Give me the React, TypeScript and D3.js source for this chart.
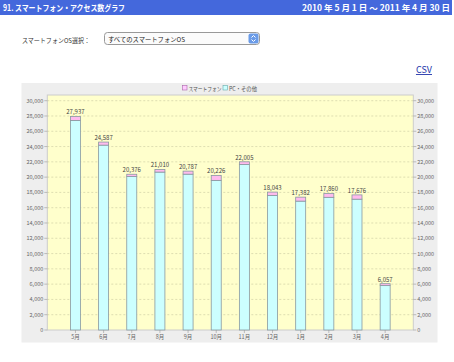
import React from 'react'
import * as d3 from 'd3'

const months = ['5月', '6月', '7月', '8月', '9月', '10月', '11月', '12月', '1月', '2月', '3月', '4月']
const totals = [27937, 24587, 20376, 21010, 20787, 20226, 22005, 18043, 17382, 17860, 17676, 6057]
// smartphone part sits on top of the PC part
const smartphone = [520, 400, 300, 350, 400, 650, 350, 430, 520, 500, 560, 250]
const yTicks = d3.range(0, 30001, 2000)

const font = '"Noto Sans CJK JP", "DejaVu Sans", sans-serif'

const App = () => {
    const width = 454
    const height = 362
    const plot = { left: 47.3, right: 413.3, top: 95, bottom: 330 }

    const x = d3.scalePoint<string>()
        .domain(months)
        .range([plot.left, plot.right])
        .padding(1)

    const y = d3.scaleLinear()
        .domain([0, 30000])
        .range([plot.bottom, 100.7])

    const fmt = d3.format(',')
    const barW = 10

    return (
        <svg width={width} height={height} style={{ position: 'absolute', left: 0, top: 0 }} fontFamily={font}>
            <rect x={0} y={0} width={width} height={height} fill="#ffffff" />

            {/* header bar */}
            <rect x={0} y={0} width={452} height={15} fill="#4468dc" />
            <text x={3} y={11} fill="#fff" fontSize={8.5} fontWeight="bold" textLength={122} lengthAdjust="spacingAndGlyphs">91. スマートフォン・アクセス数グラフ</text>
            <text x={302} y={11} fill="#fff" fontSize={8.5} fontWeight="bold" textLength={148} lengthAdjust="spacingAndGlyphs">2010 年 5 月 1 日 ～ 2011 年 4 月 30 日</text>

            {/* OS select */}
            <text x={22} y={42.5} fill="#333" fontSize={6.5} textLength={68} lengthAdjust="spacingAndGlyphs">スマートフォンOS選択：</text>
            <rect x={104.5} y={32.5} width={155} height={12} rx={3} fill="#fbfbfb" stroke="#999" />
            <text x={108} y={41.5} fill="#222" fontSize={6.5} textLength={77} lengthAdjust="spacingAndGlyphs">すべてのスマートフォンOS</text>
            <rect x={248.5} y={33.5} width={10} height={10} rx={2} fill="#6a9be8" />
            <path d="M251.5,37.5 L253.5,35.5 L255.5,37.5 M251.5,39.5 L253.5,41.5 L255.5,39.5" stroke="#fff" fill="none" strokeWidth={1} />

            {/* CSV link */}
            <text x={432} y={73} fill="#2233aa" fontSize={9} textAnchor="end" textDecoration="underline">CSV</text>

            {/* chart panel */}
            <rect x={21.5} y={83} width={416} height={259.5} fill="#eeeeee" />
            <rect x={plot.left} y={plot.top} width={plot.right - plot.left} height={plot.bottom - plot.top} fill="#ffffcc" stroke="#cccccc" />

            {/* legend */}
            <rect x={182.5} y={85.5} width={4.5} height={4.5} fill="#ffccff" stroke="#aa66aa" strokeWidth={0.6} />
            <text x={188.5} y={90.5} fill="#555" fontSize={6} textLength={33} lengthAdjust="spacingAndGlyphs">スマートフォン</text>
            <rect x={223} y={85.5} width={4.5} height={4.5} fill="#ccffff" stroke="#66aaaa" strokeWidth={0.6} />
            <text x={229} y={90.5} fill="#555" fontSize={6} textLength={28} lengthAdjust="spacingAndGlyphs">PC・その他</text>

            {/* gridlines and y axes */}
            {yTicks.map(t => (
                <g key={t}>
                    {t > 0 && (
                        <line x1={plot.left} x2={plot.right} y1={y(t)} y2={y(t)} stroke="#c8c8a0" strokeDasharray="2,2" strokeWidth={0.6} />
                    )}
                    <line x1={plot.left - 3} x2={plot.left} y1={y(t)} y2={y(t)} stroke="#999" strokeWidth={0.6} />
                    <line x1={plot.right} x2={plot.right + 3} y1={y(t)} y2={y(t)} stroke="#999" strokeWidth={0.6} />
                    <text x={plot.left - 4} y={y(t) + 2} fontSize={5.5} fill="#666" textAnchor="end">{fmt(t)}</text>
                    <text x={plot.right + 4} y={y(t) + 2} fontSize={5.5} fill="#666">{fmt(t)}</text>
                </g>
            ))}

            {/* bars */}
            {months.map((m, i) => {
                const cx = x(m) as number
                const pc = totals[i] - smartphone[i]
                return (
                    <g key={m}>
                        <rect x={cx - barW / 2} y={y(pc)} width={barW} height={y(0) - y(pc)} fill="#ccffff" stroke="#8899a0" strokeWidth={0.8} />
                        <rect x={cx - barW / 2} y={y(totals[i])} width={barW} height={y(pc) - y(totals[i])} fill="#ffbbee" stroke="#8899a0" strokeWidth={0.8} />
                        <text x={cx} y={y(totals[i]) - 2} fontSize={6} fill="#444" textAnchor="middle">{fmt(totals[i])}</text>
                        <line x1={cx} x2={cx} y1={plot.bottom} y2={plot.bottom + 3} stroke="#999" strokeWidth={0.6} />
                        <text x={cx} y={plot.bottom + 9} fontSize={5.5} fill="#666" textAnchor="middle">{m}</text>
                    </g>
                )
            })}
        </svg>
    )
}

export default App
